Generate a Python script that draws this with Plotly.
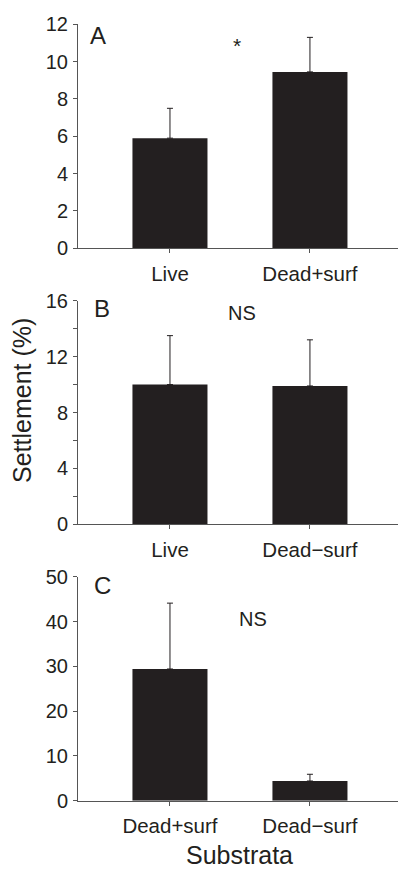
import plotly.graph_objects as go

# ---- data ----
cats_a = ["Live", "Dead+surf"]
vals_a = [5.9, 9.45]
err_a = [1.6, 1.85]

cats_b = ["Live", "Dead\u2212surf"]
vals_b = [10.0, 9.9]
err_b = [3.5, 3.3]

cats_c = ["Dead+surf", "Dead\u2212surf"]
vals_c = [29.4, 4.4]
err_c = [14.7, 1.5]

panel_labels = ["A", "B", "C"]
sig_labels = ["*", "NS", "NS"]

W, H = 398, 870
FONT = "Liberation Sans, Arial, Helvetica, sans-serif"
INK = "#231f20"
AXC = "#555555"
BAR = "#231f20"

def py(p):
    return 1 - p / H

def px(p):
    return p / W

fig = go.Figure()
panels = [
    (cats_a, vals_a, err_a, "x", "y"),
    (cats_b, vals_b, err_b, "x2", "y2"),
    (cats_c, vals_c, err_c, "x3", "y3"),
]
for cats, vals, errs, xa, ya in panels:
    fig.add_trace(go.Bar(
        x=cats, y=vals, xaxis=xa, yaxis=ya, width=0.536,
        marker=dict(color=BAR, line=dict(width=0)),
        error_y=dict(type="data", symmetric=False, array=errs,
                     arrayminus=[0] * len(errs), color=INK,
                     thickness=1, width=3),
        showlegend=False,
    ))

ydoms = [(py(248.3), py(24.3)), (py(524.3), py(300.7)), (py(800.7), py(576.7))]
yranges = [[0, 12], [0, 16], [0, 50]]
ytickvals = [list(range(0, 13, 2)), list(range(0, 17, 2)), list(range(0, 51, 10))]
yticktext = [
    [str(v) for v in ytickvals[0]],
    [str(v) if v % 4 == 0 else "" for v in ytickvals[1]],
    [str(v) for v in ytickvals[2]],
]
xdom = [px(78), 1.0]
xrange_ = [-0.657, 1.629]

layout = dict(
    width=W, height=H,
    margin=dict(l=0, r=0, t=0, b=0, pad=0),
    paper_bgcolor="white", plot_bgcolor="white",
    font=dict(family=FONT, size=20, color=INK),
    template="none",
)
for i in range(3):
    sx = "" if i == 0 else str(i + 1)
    layout["xaxis" + sx] = dict(
        domain=xdom, range=xrange_, anchor="y" + sx,
        showline=True, linecolor=AXC, linewidth=1,
        ticks="outside", ticklen=4, tickcolor=AXC, tickwidth=1,
        showgrid=False, zeroline=False, automargin=False,
        tickfont=dict(family=FONT, size=20.5, color=INK),
        ticklabelstandoff=3,
        fixedrange=True,
    )
    layout["yaxis" + sx] = dict(
        domain=list(ydoms[i]), range=yranges[i], anchor="x" + sx,
        showline=True, linecolor=AXC, linewidth=1,
        ticks="outside", ticklen=4, tickcolor=AXC, tickwidth=1,
        tickvals=ytickvals[i], ticktext=yticktext[i],
        showgrid=False, zeroline=False, automargin=False,
        tickfont=dict(family=FONT, size=20, color=INK),
        ticklabelstandoff=1,
        fixedrange=True,
    )

annotations = []
letter_pos = [(98, 35), (102, 308), (102, 585)]
for lab, (x, y) in zip(panel_labels, letter_pos):
    annotations.append(dict(text=lab, x=px(x), y=py(y), xref="paper", yref="paper",
                            showarrow=False, font=dict(size=24, color=INK, family=FONT),
                            xanchor="center", yanchor="middle"))
sig_pos = [(237, 46), (242, 313), (253, 619)]
sig_sizes = [21, 20, 20]
for lab, (x, y), s in zip(sig_labels, sig_pos, sig_sizes):
    annotations.append(dict(text=lab, x=px(x), y=py(y), xref="paper", yref="paper",
                            showarrow=False, font=dict(size=s, color=INK, family=FONT),
                            xanchor="center", yanchor="middle"))
annotations.append(dict(text="Substrata", x=px(239), y=0, xref="paper", yref="paper",
                        showarrow=False, font=dict(size=25, color=INK, family=FONT),
                        xanchor="center", yanchor="bottom", borderpad=0))
annotations.append(dict(text="Settlement (%)", x=px(22), y=py(401), xref="paper", yref="paper",
                        showarrow=False, textangle=-90,
                        font=dict(size=25, color=INK, family=FONT),
                        xanchor="center", yanchor="middle"))
layout["annotations"] = annotations

fig.update_layout(**layout)
fig.write_html("out.html")
